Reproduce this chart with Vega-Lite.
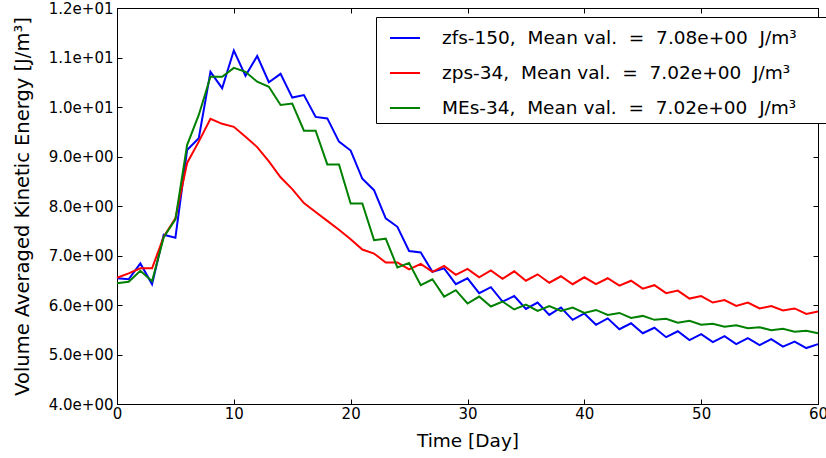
{
  "$schema": "https://vega.github.io/schema/vega-lite/v6.json",
  "width": 701,
  "height": 396,
  "autosize": "none",
  "padding": {"left": 117, "top": 8, "right": 8, "bottom": 54},
  "background": "white",
  "config": {
    "font": "DejaVu Sans",
    "view": {"stroke": "black", "strokeWidth": 1},
    "axis": {
      "grid": false,
      "domainColor": "black",
      "tickColor": "black",
      "labelColor": "black",
      "titleColor": "black",
      "labelFont": "DejaVu Sans",
      "titleFont": "DejaVu Sans",
      "labelFontSize": 15,
      "titleFontSize": 18.5,
      "titleFontWeight": "normal",
      "tickSize": -5,
      "labelFlush": false
    }
  },
  "data": {
    "values": [
      {"day": 0, "zfs-150": 6.54, "zps-34": 6.55, "MEs-34": 6.44},
      {"day": 1, "zfs-150": 6.52, "zps-34": 6.64, "MEs-34": 6.47},
      {"day": 2, "zfs-150": 6.84, "zps-34": 6.74, "MEs-34": 6.69},
      {"day": 3, "zfs-150": 6.42, "zps-34": 6.74, "MEs-34": 6.48},
      {"day": 4, "zfs-150": 7.42, "zps-34": 7.38, "MEs-34": 7.37},
      {"day": 5, "zfs-150": 7.36, "zps-34": 7.75, "MEs-34": 7.73},
      {"day": 6, "zfs-150": 9.13, "zps-34": 8.87, "MEs-34": 9.23},
      {"day": 7, "zfs-150": 9.37, "zps-34": 9.30, "MEs-34": 9.84},
      {"day": 8, "zfs-150": 10.71, "zps-34": 9.76, "MEs-34": 10.61},
      {"day": 9, "zfs-150": 10.38, "zps-34": 9.66, "MEs-34": 10.61},
      {"day": 10, "zfs-150": 11.14, "zps-34": 9.60, "MEs-34": 10.79},
      {"day": 11, "zfs-150": 10.63, "zps-34": 9.40, "MEs-34": 10.71},
      {"day": 12, "zfs-150": 11.03, "zps-34": 9.19, "MEs-34": 10.51},
      {"day": 13, "zfs-150": 10.50, "zps-34": 8.90, "MEs-34": 10.41},
      {"day": 14, "zfs-150": 10.67, "zps-34": 8.58, "MEs-34": 10.04},
      {"day": 15, "zfs-150": 10.19, "zps-34": 8.34, "MEs-34": 10.07},
      {"day": 16, "zfs-150": 10.24, "zps-34": 8.06, "MEs-34": 9.52},
      {"day": 17, "zfs-150": 9.80, "zps-34": 7.88, "MEs-34": 9.52},
      {"day": 18, "zfs-150": 9.77, "zps-34": 7.70, "MEs-34": 8.84},
      {"day": 19, "zfs-150": 9.30, "zps-34": 7.52, "MEs-34": 8.84},
      {"day": 20, "zfs-150": 9.12, "zps-34": 7.33, "MEs-34": 8.05},
      {"day": 21, "zfs-150": 8.55, "zps-34": 7.12, "MEs-34": 8.05},
      {"day": 22, "zfs-150": 8.32, "zps-34": 7.04, "MEs-34": 7.31},
      {"day": 23, "zfs-150": 7.75, "zps-34": 6.86, "MEs-34": 7.34},
      {"day": 24, "zfs-150": 7.58, "zps-34": 6.86, "MEs-34": 6.76},
      {"day": 25, "zfs-150": 7.09, "zps-34": 6.72, "MEs-34": 6.85},
      {"day": 26, "zfs-150": 7.06, "zps-34": 6.83, "MEs-34": 6.40},
      {"day": 27, "zfs-150": 6.67, "zps-34": 6.67, "MEs-34": 6.52},
      {"day": 28, "zfs-150": 6.74, "zps-34": 6.79, "MEs-34": 6.17},
      {"day": 29, "zfs-150": 6.42, "zps-34": 6.61, "MEs-34": 6.30},
      {"day": 30, "zfs-150": 6.54, "zps-34": 6.73, "MEs-34": 6.03},
      {"day": 31, "zfs-150": 6.24, "zps-34": 6.56, "MEs-34": 6.17},
      {"day": 32, "zfs-150": 6.36, "zps-34": 6.70, "MEs-34": 5.97},
      {"day": 33, "zfs-150": 6.07, "zps-34": 6.53, "MEs-34": 6.07},
      {"day": 34, "zfs-150": 6.18, "zps-34": 6.68, "MEs-34": 5.91},
      {"day": 35, "zfs-150": 5.92, "zps-34": 6.49, "MEs-34": 6.01},
      {"day": 36, "zfs-150": 6.05, "zps-34": 6.62, "MEs-34": 5.88},
      {"day": 37, "zfs-150": 5.80, "zps-34": 6.45, "MEs-34": 5.98},
      {"day": 38, "zfs-150": 5.95, "zps-34": 6.58, "MEs-34": 5.88},
      {"day": 39, "zfs-150": 5.70, "zps-34": 6.42, "MEs-34": 5.95},
      {"day": 40, "zfs-150": 5.83, "zps-34": 6.56, "MEs-34": 5.84},
      {"day": 41, "zfs-150": 5.60, "zps-34": 6.42, "MEs-34": 5.90},
      {"day": 42, "zfs-150": 5.73, "zps-34": 6.54, "MEs-34": 5.80},
      {"day": 43, "zfs-150": 5.51, "zps-34": 6.39, "MEs-34": 5.84},
      {"day": 44, "zfs-150": 5.63, "zps-34": 6.49, "MEs-34": 5.74},
      {"day": 45, "zfs-150": 5.43, "zps-34": 6.33, "MEs-34": 5.78},
      {"day": 46, "zfs-150": 5.54, "zps-34": 6.40, "MEs-34": 5.70},
      {"day": 47, "zfs-150": 5.35, "zps-34": 6.24, "MEs-34": 5.72},
      {"day": 48, "zfs-150": 5.47, "zps-34": 6.29, "MEs-34": 5.64},
      {"day": 49, "zfs-150": 5.29, "zps-34": 6.13, "MEs-34": 5.68},
      {"day": 50, "zfs-150": 5.41, "zps-34": 6.18, "MEs-34": 5.60},
      {"day": 51, "zfs-150": 5.25, "zps-34": 6.05, "MEs-34": 5.62},
      {"day": 52, "zfs-150": 5.37, "zps-34": 6.10, "MEs-34": 5.56},
      {"day": 53, "zfs-150": 5.21, "zps-34": 5.98, "MEs-34": 5.59},
      {"day": 54, "zfs-150": 5.33, "zps-34": 6.05, "MEs-34": 5.53},
      {"day": 55, "zfs-150": 5.19, "zps-34": 5.93, "MEs-34": 5.55},
      {"day": 56, "zfs-150": 5.31, "zps-34": 5.98, "MEs-34": 5.49},
      {"day": 57, "zfs-150": 5.16, "zps-34": 5.89, "MEs-34": 5.52},
      {"day": 58, "zfs-150": 5.26, "zps-34": 5.93, "MEs-34": 5.46},
      {"day": 59, "zfs-150": 5.13, "zps-34": 5.82, "MEs-34": 5.48},
      {"day": 60, "zfs-150": 5.21, "zps-34": 5.87, "MEs-34": 5.43}
    ]
  },
  "transform": [{"fold": ["zfs-150", "zps-34", "MEs-34"], "as": ["series", "value"]}],
  "layer": [
    {
      "mark": {"type": "line", "strokeWidth": 2},
      "encoding": {
        "x": {
          "field": "day", "type": "quantitative",
          "scale": {"domain": [0, 60], "nice": false},
          "axis": {"values": [0, 10, 20, 30, 40, 50, 60], "title": "Time [Day]", "labelPadding": 7, "titlePadding": 10}
        },
        "y": {
          "field": "value", "type": "quantitative",
          "scale": {"domain": [4, 12], "nice": false, "zero": false},
          "axis": {
            "values": [4, 5, 6, 7, 8, 9, 10, 11, 12],
            "labelExpr": "replace(format(datum.value, '.1e'), 'e+', 'e+0')",
            "labelPadding": 9,
            "title": "Volume Averaged Kinetic Energy [J/m³]",
            "titleFontSize": 19.5,
            "titlePadding": 16
          }
        },
        "color": {
          "field": "series", "type": "nominal",
          "scale": {"domain": ["zfs-150", "zps-34", "MEs-34"], "range": ["#0000ff", "#ff0000", "#008000"]},
          "legend": {
            "title": null,
            "orient": "none",
            "legendX": 259,
            "legendY": 9,
            "padding": 5,
            "strokeColor": "black",
            "fillColor": "white",
            "cornerRadius": 0,
            "symbolType": "stroke",
            "symbolSize": 900,
            "symbolStrokeWidth": 2,
            "symbolOffset": 8,
            "labelFont": "DejaVu Sans",
            "labelFontSize": 18.5,
            "labelColor": "black",
            "labelLimit": 0,
            "labelOffset": 21,
            "rowPadding": 9,
            "labelExpr": "datum.label == 'zfs-150' ? 'zfs-150,\u00a0 Mean val.\u00a0 =\u00a0 7.08e+00\u00a0 J/m³\u00a0\u00a0\u00a0\u00a0\u200b' : datum.label == 'zps-34' ? 'zps-34,\u00a0 Mean val.\u00a0 =\u00a0 7.02e+00\u00a0 J/m³' : 'MEs-34,\u00a0 Mean val.\u00a0 =\u00a0 7.02e+00\u00a0 J/m³'"
          }
        }
      }
    },
    {
      "mark": {"type": "line", "strokeOpacity": 0},
      "encoding": {
        "x": {"field": "day", "type": "quantitative", "axis": {"orient": "top", "labels": false, "title": null, "values": [0, 10, 20, 30, 40, 50, 60]}},
        "y": {"field": "value", "type": "quantitative", "axis": {"orient": "right", "labels": false, "title": null, "values": [4, 5, 6, 7, 8, 9, 10, 11, 12]}},
        "detail": {"field": "series"}
      }
    }
  ],
  "resolve": {"axis": {"x": "independent", "y": "independent"}}
}
